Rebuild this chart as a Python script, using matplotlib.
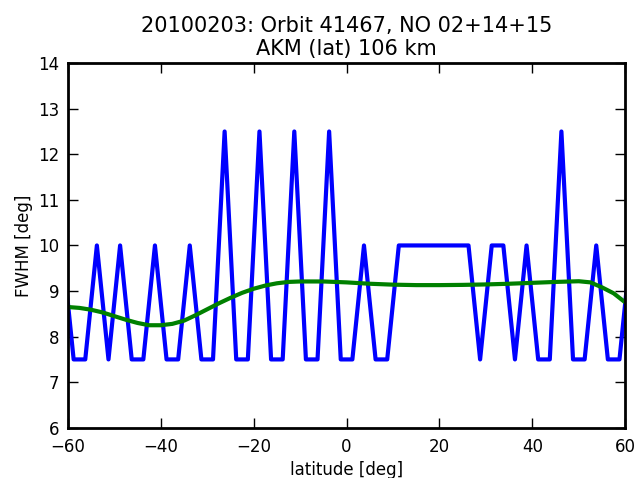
import numpy as np
import matplotlib
matplotlib.use('Agg')
import matplotlib.pyplot as plt

# blue line: FWHM on a 2.5 deg latitude grid
lat = [-61.25, -58.75, -56.25, -53.75, -51.25, -48.75, -46.25, -43.75, -41.25,
       -38.75, -36.25, -33.75, -31.25, -28.75, -26.25, -23.75, -21.25, -18.75,
       -16.25, -13.75, -11.25, -8.75, -6.25, -3.75, -1.25, 1.25, 3.75, 6.25,
       8.75, 11.25, 13.75, 16.25, 18.75, 21.25, 23.75, 26.25, 28.75, 31.25,
       33.75, 36.25, 38.75, 41.25, 43.75, 46.25, 48.75, 51.25, 53.75, 56.25,
       58.75, 61.25]
fwhm = [10, 7.5, 7.5, 10, 7.5, 10, 7.5, 7.5, 10,
        7.5, 7.5, 10, 7.5, 7.5, 12.5, 7.5, 7.5, 12.5,
        7.5, 7.5, 12.5, 7.5, 7.5, 12.5, 7.5, 7.5, 10, 7.5,
        7.5, 10, 10, 10, 10, 10, 10, 10, 7.5, 10,
        10, 7.5, 10, 7.5, 7.5, 12.5, 7.5, 7.5, 10, 7.5,
        7.5, 10]

# green line: smoothed FWHM
lat_s = [-60, -57.5, -55, -52.5, -50, -47.5, -45, -42.5, -40, -37.5, -35,
         -32.5, -30, -27.5, -25, -22.5, -20, -17.5, -15, -12.5, -10, -5, 0,
         5, 10, 15, 20, 25, 30, 35, 40, 45, 50, 52.5, 55, 57.5, 60]
fwhm_s = [8.65, 8.63, 8.59, 8.53, 8.45, 8.37, 8.30, 8.25, 8.25, 8.28, 8.35,
          8.47, 8.60, 8.73, 8.85, 8.96, 9.05, 9.12, 9.17, 9.20, 9.21, 9.21,
          9.19, 9.16, 9.14, 9.13, 9.13, 9.135, 9.145, 9.16, 9.18, 9.20,
          9.215, 9.19, 9.08, 8.95, 8.75]

fig = plt.figure(figsize=(6.4, 4.78), dpi=100)
ax = fig.add_axes([0.106, 0.105, 0.871, 0.763])
ax.plot(lat, fwhm, color='b', lw=3)
ax.plot(lat_s, fwhm_s, color='g', lw=3)

ax.set_xlim(-60, 60)
ax.set_ylim(6, 14)
ax.set_xticks(range(-60, 61, 20))
ax.set_yticks(range(6, 15))
ax.tick_params(direction='in', length=7, width=1, labelsize=12, top=True, right=True)
ax.tick_params(axis='x', pad=7)
ax.tick_params(axis='y', pad=6)
for s in ax.spines.values():
    s.set_linewidth(2)

ax.set_xlabel('latitude [deg]', fontsize=12)
ax.set_ylabel('FWHM [deg]', fontsize=12)
ax.set_title('20100203: Orbit 41467, NO 02+14+15\nAKM (lat) 106 km', fontsize=15)

fig.savefig('out.png', dpi=100)
